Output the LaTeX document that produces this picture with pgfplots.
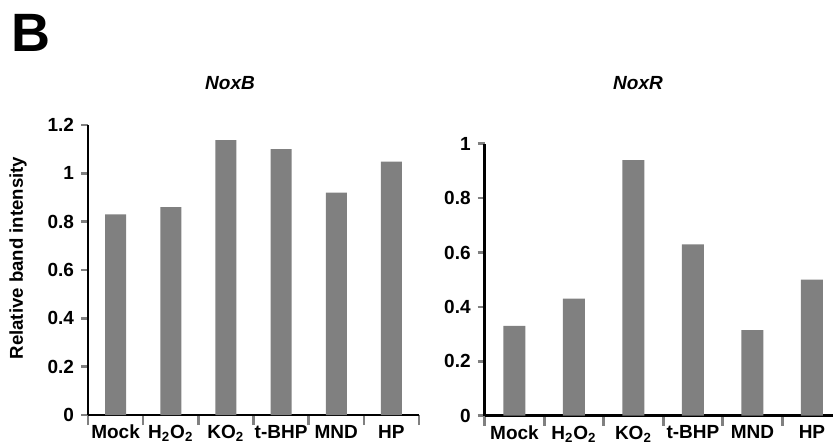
\documentclass[border=0pt]{standalone}
\usepackage{pgfplots}
\pgfplotsset{compat=1.18}
\usepackage{fontspec}
\setmainfont{Liberation Sans}

\definecolor{bargray}{HTML}{808080}

\pgfplotsset{
  panel/.style={
    scale only axis,
    anchor=south west,
    axis lines=left,
    axis line style={-, line width=1.3pt},
    xmin=-0.5, xmax=5.5,
    ymin=0,
    xtick={0,...,5},
    xticklabels={Mock, H\textsubscript{2}O\textsubscript{2}, KO\textsubscript{2}, t-BHP, MND, HP},
    minor xtick={-0.5,0.5,...,5.5},
    major x tick style={draw=none},
    minor x tick style={line width=1.3pt},
    minor tick length=5pt,
    major tick length=3.5pt,
    y tick style={line width=1.3pt},
    tick align=outside,
    tick label style={font=\fontsize{9.5}{11}\selectfont\bfseries},
    /pgf/number format/assume math mode=true,
    xticklabel style={yshift=2pt},
    ybar, bar shift=0pt,
  },
}

\begin{document}
\begin{tikzpicture}
\path[use as bounding box, clip] (0,0) rectangle (416.5pt,220.5pt);

% panel letter and shared y label
\node[font=\fontsize{27}{30}\selectfont\bfseries] at (15.5pt,204pt) {B};
\node[font=\fontsize{9.3}{11}\selectfont\bfseries, rotate=90] at (9pt,91.5pt) {Relative band intensity};

% NoxB
\begin{axis}[panel,
  at={(44pt,13pt)}, width=165.5pt, height=145pt,
  ymax=1.2, ytick={0,0.2,...,1.2},
  bar width=10.5pt]
\addplot[fill=bargray, draw=none] coordinates {
  (0,0.83) (1,0.86) (2,1.137) (3,1.10) (4,0.92) (5,1.048)
};
\end{axis}
\node[font=\fontsize{9.5}{11}\selectfont\bfseries\itshape] at (115pt,179pt) {NoxB};

% NoxR
\begin{axis}[panel,
  at={(242.35pt,12.65pt)}, width=178.5pt, height=136pt,
  ymax=1, ytick={0,0.2,...,1},
  bar width=11pt]
\addplot[fill=bargray, draw=none] coordinates {
  (0,0.33) (1,0.43) (2,0.94) (3,0.63) (4,0.315) (5,0.50)
};
\end{axis}
\node[font=\fontsize{9.5}{11}\selectfont\bfseries\itshape] at (319pt,179pt) {NoxR};
\end{tikzpicture}
\end{document}
